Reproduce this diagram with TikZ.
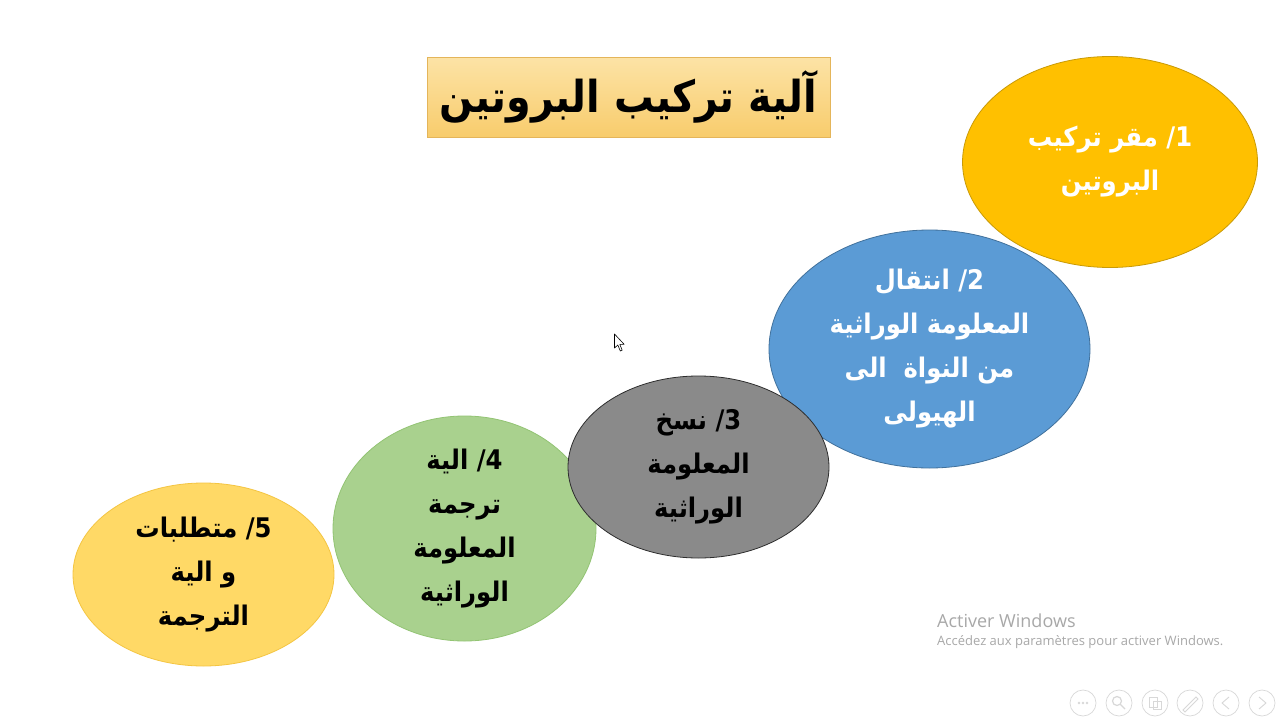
\documentclass[tikz,border=0pt]{standalone}
\usepackage{fontspec}
\usetikzlibrary{shapes.geometric}
\TeXXeTstate=1
\newfontfamily\arabicfont[Script=Arabic,FakeStretch=0.9]{DejaVu Sans}
\newfontfamily\winfont{Open Sans}
\newcommand{\arl}[1]{\beginR #1\endR}
\definecolor{cOne}{HTML}{FFC000}
\definecolor{cOneB}{HTML}{C99A06}
\definecolor{cTwo}{HTML}{5B9BD5}
\definecolor{cTwoB}{HTML}{41719C}
\definecolor{cThree}{HTML}{8A8A8A}
\definecolor{cThreeB}{HTML}{2E2E2E}
\definecolor{cFour}{HTML}{A9D18E}
\definecolor{cFourB}{HTML}{93C474}
\definecolor{cFive}{HTML}{FFD966}
\definecolor{cFiveB}{HTML}{F4C542}
\definecolor{titleTop}{HTML}{FCE3A6}
\definecolor{titleBot}{HTML}{F8CC6C}
\definecolor{titleB}{HTML}{E4B55A}
\definecolor{wmark}{HTML}{A8A8A8}
\definecolor{navc}{HTML}{D8D8D8}
\tikzset{
  stepell/.style={ellipse, inner sep=0pt, line width=0.8pt,
    font=\arabicfont\bfseries\fontsize{27}{44}\selectfont, align=center},
}
\begin{document}
\begin{tikzpicture}[x=1pt,y=-1pt]
\useasboundingbox[fill=white] (0,0) rectangle (1280,720);
% title
\node[draw=titleB, line width=0.8pt, top color=titleTop, bottom color=titleBot,
  minimum width=403pt, minimum height=80pt, inner sep=0pt,
  font=\arabicfont\bfseries\fontsize{44}{50}\selectfont] (title) at (628.5,97)
  {\arl{آلية تركيب البروتين}};
% ellipses
\node[stepell, fill=cOne, draw=cOneB, text=white, minimum width=295pt, minimum height=211pt] (e1) at (1110,162)
  {\arl{\beginL 1/\endL{} مقر تركيب}\\ \arl{البروتين}};
\node[stepell, fill=cTwo, draw=cTwoB, text=white, minimum width=321pt, minimum height=238pt] (e2) at (929.5,349)
  {\arl{\beginL 2/\endL{} انتقال}\\ \arl{المعلومة الوراثية}\\ \arl{من النواة~ الى}\\ \arl{الهيولى}};
\node[stepell, fill=cFive, draw=cFiveB, text=black, minimum width=261pt, minimum height=183pt] (e5) at (203.5,574.5)
  {\arl{\beginL 5/\endL{} متطلبات}\\ \arl{و الية}\\ \arl{الترجمة}};
\node[stepell, fill=cFour, draw=cFourB, text=black, minimum width=263pt, minimum height=183pt] (e4) at (464.5,528.5)
  {\arl{\beginL 4/\endL{} الية}\\ \arl{ترجمة}\\ \arl{المعلومة}\\ \arl{الوراثية}};
\node[stepell, fill=cThree, draw=cThreeB, text=black, minimum width=261pt, minimum height=182pt] (e3) at (698.5,467)
  {\arl{\beginL 3/\endL{} نسخ}\\ \arl{المعلومة}\\ \arl{الوراثية}};
% mouse cursor
\draw[fill=white, draw=black, line width=0.6pt, line join=round]
  (614.5,334) -- (614.5,348) -- (617.8,345) -- (620.3,351) -- (622.2,350.2) -- (619.8,344.4) -- (624.2,344.4) -- cycle;
% watermark
\node[anchor=west, inner sep=0pt, text=wmark, font=\winfont\fontsize{18}{20}\selectfont] (wm1) at (937,621) {Activer Windows};
\node[anchor=west, inner sep=0pt, text=wmark, font=\winfont\fontsize{13}{15}\selectfont] (wm2) at (937,642) {Accédez aux paramètres pour activer Windows.};
% slide navigation icons
\foreach \i/\cx in {1/1083,2/1119,3/1155,4/1190,5/1226,6/1262}{
  \node[circle, draw=navc, line width=0.7pt, minimum size=26pt, inner sep=0pt] (nav\i) at (\cx,703) {};
}
\foreach \dx in {-4,0,4}{\fill[navc] (1083+\dx,703) circle (1.3pt);}
\draw[navc, line width=1.2pt] (1117,701) circle (4.5pt) (1120.5,704.5) -- (1125,709);
\draw[navc, line width=0.9pt] (1149,697) rectangle (1157,707) (1153,701) rectangle (1161,709);
\draw[navc, line width=0.9pt] (1183,710) -- (1196,697) -- (1198,699) -- (1185,712) -- cycle;
\draw[navc, line width=0.9pt, line join=round] (1229,697) -- (1222,703) -- (1229,709);
\draw[navc, line width=0.9pt, line join=round] (1259,697) -- (1266,703) -- (1259,709);
\end{tikzpicture}
\end{document}
